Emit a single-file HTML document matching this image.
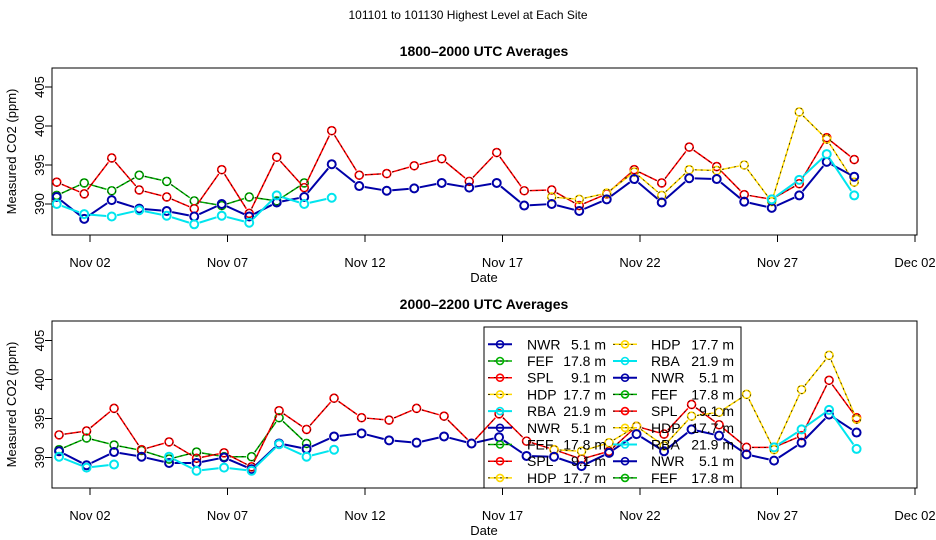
<!DOCTYPE html>
<html><head><meta charset="utf-8"><style>
html,body{margin:0;padding:0;background:#fff;}
svg{display:block;font-family:"Liberation Sans",Arial,sans-serif;}
</style></head><body>
<svg id="chart" width="936" height="540" viewBox="0 0 936 540" xmlns="http://www.w3.org/2000/svg">
<text x="468" y="19" font-size="12" text-anchor="middle">101101  to  101130 Highest Level at Each Site</text>
</svg>
<script>
const days = [1,2,3,4,5,6,7,8,9,10,11,12,13,14,15,16,17,18,19,20,21,22,23,24,25,26,27,28,29,30];
const xTickLabels = ["Nov 02","Nov 07","Nov 12","Nov 17","Nov 22","Nov 27","Dec 02"];
const xTickDays = [2,7,12,17,22,27,32];
const yTickValues = [390,395,400,405];
const seriesNames = ["NWR","FEF","SPL","HDP","RBA"];
const N = null;
// Panel 1: 1800-2000 UTC
const nwr1 = [390.9,388.1,390.5,389.4,389.1,388.4,390.0,388.4,390.2,390.9,395.1,392.3,391.7,392.0,392.7,392.1,392.7,389.8,390.0,389.1,390.6,393.2,390.2,393.3,393.2,390.3,389.5,391.1,395.4,393.5];
const fef1 = [391.1,392.7,391.7,393.7,392.9,390.4,389.8,390.9,390.4,392.7,N,N,N,N,N,N,N,N,N,N,N,N,N,N,N,N,N,N,N,N];
const spl1 = [392.8,391.3,395.9,391.8,390.9,389.4,394.4,388.8,396.0,392.1,399.4,393.7,393.9,394.9,395.8,392.9,396.6,391.7,391.8,389.8,391.3,394.4,392.7,397.3,394.8,391.2,390.6,392.6,398.5,395.7];
const hdp1 = [N,N,N,N,N,N,N,N,N,N,N,N,N,N,N,N,N,N,390.9,390.6,391.4,394.1,391.1,394.4,394.3,395.0,390.3,401.8,398.3,392.8];
const rba1 = [390.0,388.7,388.4,389.2,388.5,387.4,388.5,387.6,391.1,390.0,390.8,N,N,N,N,N,N,N,N,N,N,N,N,N,N,N,390.6,393.1,396.4,391.1];
// Panel 2: 2000-2200 UTC
const nwr2 = [390.8,389.0,390.7,390.1,389.3,389.3,390.0,388.5,391.8,391.1,392.7,393.1,392.2,391.9,392.7,391.8,392.6,390.2,390.1,388.9,390.6,393.0,390.8,393.6,392.8,390.4,389.6,391.9,395.5,393.2];
const fef2 = [391.0,392.5,391.6,390.9,389.8,390.7,390.1,390.1,395.1,391.8,N,N,N,N,N,N,N,N,N,N,N,N,N,N,N,N,N,N,N,N];
const spl2 = [392.9,393.4,396.3,391.0,392.0,389.9,390.6,388.8,396.0,393.6,397.6,395.1,394.8,396.3,395.3,391.8,395.6,392.1,391.0,389.8,390.8,394.0,393.0,396.8,394.2,391.3,391.3,392.8,399.9,395.1];
const hdp2 = [N,N,N,N,N,N,N,N,N,N,N,N,N,N,N,N,N,N,391.0,390.8,391.9,394.0,391.5,395.3,395.8,398.1,391.0,398.7,403.1,394.9];
const rba2 = [390.1,388.7,389.1,N,390.1,388.3,388.7,388.3,391.7,390.1,391.0,N,N,N,N,N,N,N,N,N,N,N,N,N,N,N,391.3,393.6,396.1,391.1];

const NS="http://www.w3.org/2000/svg";
const svg=document.getElementById('chart');
const styles={
 NWR:{c:"#0000a8",w:2,dash:false},
 FEF:{c:"#00b000",w:1.5,dash:true},
 SPL:{c:"#ff0000",w:1.5,dash:true},
 HDP:{c:"#ffd800",w:1.5,dash:true},
 RBA:{c:"#00e5ee",w:2,dash:false}
};
function mk(tag,attrs,parent){const e=document.createElementNS(NS,tag);for(const k in attrs)e.setAttribute(k,attrs[k]);(parent||svg).appendChild(e);return e;}
const X0=52,X1=917;
function xScale(d){return 90+(d-2)*27.5;}

function drawPanel(p){
 const g=mk('g',{});
 
 
 const yS=v=>p.y390-(v-390)*7.8;
 const t=mk('text',{x:484,y:p.top-12,'font-size':14,'font-weight':'bold','text-anchor':'middle'},g);
 t.textContent=p.title;
 
 
 const box=mk('rect',{x:X0,y:p.top,width:X1-X0,height:p.bot-p.top,fill:'none',stroke:'#000','stroke-width':1},g);
 
 
 yTickValues.forEach(v=>{
  const y=yS(v);
  const l=mk('line',{x1:X0-7,x2:X0,y1:y,y2:y,stroke:'#000'},g);
  
  
  const tx=mk('text',{x:0,y:0,'font-size':13,'text-anchor':'middle',transform:`translate(44,${y}) rotate(-90)`},g);
  tx.textContent=v;
  
  
 });
 xTickDays.forEach((d,i)=>{
  const x=xScale(d);
  const l=mk('line',{x1:x,x2:x,y1:p.bot,y2:p.bot+7,stroke:'#000'},g);
  
  
  const tx=mk('text',{x:x,y:p.bot+32,'font-size':13,'text-anchor':'middle'},g);
  tx.textContent=xTickLabels[i];
  
  
 });
 const xl=mk('text',{x:484,y:p.bot+47,'font-size':13,'text-anchor':'middle'},g);
 xl.textContent='Date';
 
 
 const yl=mk('text',{x:0,y:0,'font-size':13,'text-anchor':'middle',transform:`translate(16,${(p.top+p.bot)/2}) rotate(-90)`},g);
 yl.textContent='Measured CO2 (ppm)';
 
 
 p.series.forEach(s=>{
  const st=styles[s.n];
  const sg=mk('g',{},g);
  
  
  const pts=days.map((d,i)=>s.v[i]==null?null:[xScale(d+p.off),yS(s.v[i])]);
  for(let i=0;i<pts.length-1;i++){
   const a=pts[i],b=pts[i+1]; if(!a||!b) continue;
   const dx=b[0]-a[0],dy=b[1]-a[1],L=Math.hypot(dx,dy); if(L<11) continue;
   const ux=dx/L,uy=dy/L,g5=5.5;
   const at={x1:a[0]+ux*g5,y1:a[1]+uy*g5,x2:b[0]-ux*g5,y2:b[1]-uy*g5};
   const ln=mk('line',Object.assign({stroke:st.c,'stroke-width':st.w},at),sg);
   
   
   if(st.dash){mk('line',Object.assign({stroke:'#000','stroke-width':0.7,'stroke-dasharray':'2 4'},at),sg);}
  }
  pts.forEach(pt=>{ if(!pt) return;
   const c=mk('circle',{cx:pt[0],cy:pt[1],r:4,fill:'none',stroke:st.c,'stroke-width':st.dash?1.6:2},sg);
   
   
   if(st.dash) mk('circle',{cx:pt[0],cy:pt[1],r:4,fill:'none',stroke:'#000','stroke-width':0.6,'stroke-dasharray':'2 3'},sg);
  });
 });
}
drawPanel({name:'panel-1800-2000',title:'1800\u20132000 UTC Averages',top:68,bot:235,y390:204,off:-0.21,
 series:[{n:'FEF',v:fef1},{n:'SPL',v:spl1},{n:'HDP',v:hdp1},{n:'NWR',v:nwr1},{n:'RBA',v:rba1}]});
drawPanel({name:'panel-2000-2200',title:'2000\u20132200 UTC Averages',top:321,bot:488,y390:457.5,off:-0.125,
 series:[{n:'FEF',v:fef2},{n:'SPL',v:spl2},{n:'HDP',v:hdp2},{n:'NWR',v:nwr2},{n:'RBA',v:rba2}]});

// legend
const legCol1=["NWR","FEF","SPL","HDP","RBA","NWR","FEF","SPL","HDP"];
const legCol2=["HDP","RBA","NWR","FEF","SPL","HDP","RBA","NWR","FEF"];
const heights={NWR:"5.1 m",FEF:"17.8 m",SPL:"9.1 m",HDP:"17.7 m",RBA:"21.9 m"};
const lg=mk('g',{});


const lb=mk('rect',{x:484,y:327,width:257,height:161,fill:'none',stroke:'#000'},lg);


[[legCol1,500,527,606],[legCol2,625,651,734]].forEach(([col,sx,tx,rx])=>{
 col.forEach((n,i)=>{
  const y=344.3+i*16.7, st=styles[n];
  const e=mk('g',{},lg);
  
  
  mk('line',{x1:sx-12,x2:sx+12,y1:y,y2:y,stroke:st.c,'stroke-width':st.w},e);
  if(st.dash) mk('line',{x1:sx-12,x2:sx+12,y1:y,y2:y,stroke:'#000','stroke-width':0.7,'stroke-dasharray':'2 4'},e);
  mk('circle',{cx:sx,cy:y,r:3.5,fill:'none',stroke:st.c,'stroke-width':1.6},e);
  const t1=mk('text',{x:tx,y:y+5,'font-size':14},e); t1.textContent=n;
  const t2=mk('text',{x:rx,y:y+5,'font-size':14,'text-anchor':'end'},e); t2.textContent=heights[n];
 });
});
</script>
</body></html>
